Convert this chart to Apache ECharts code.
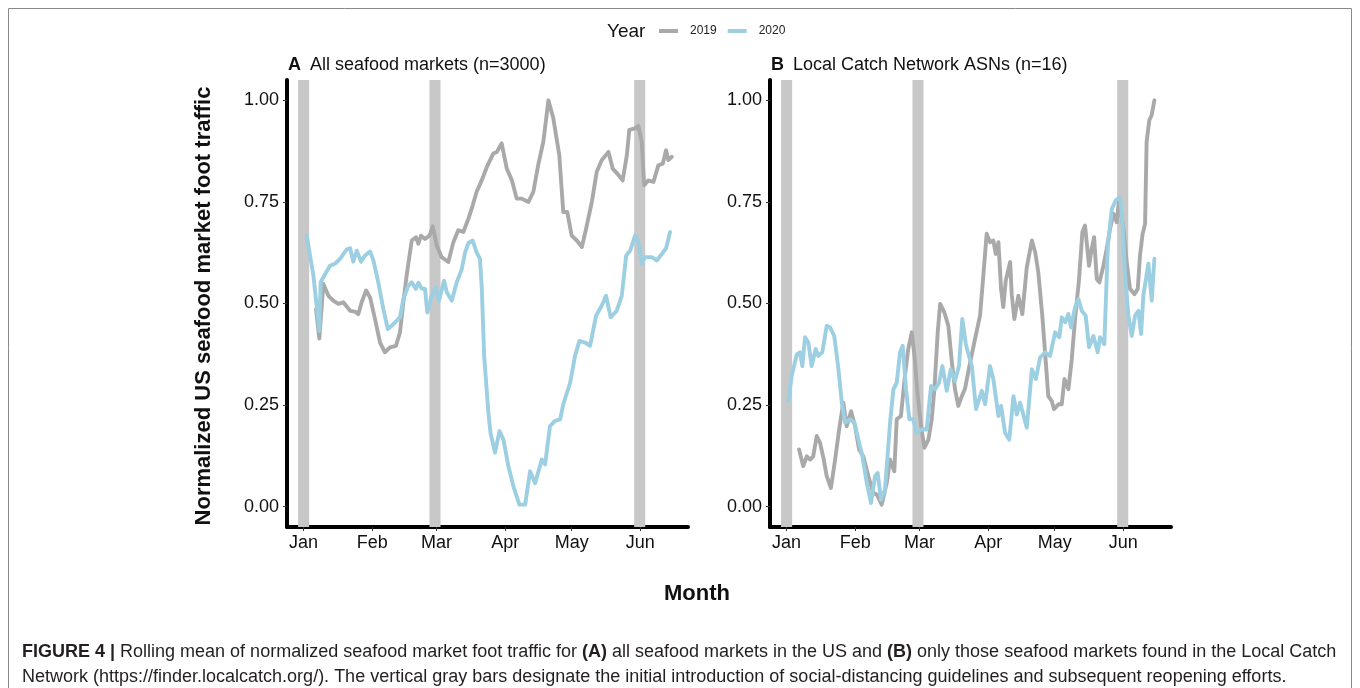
<!DOCTYPE html>
<html>
<head>
<meta charset="utf-8">
<script src="https://cdn.jsdelivr.net/npm/echarts@6/dist/echarts.min.js"></script>
<style>
html,body{margin:0;padding:0;background:#fff;}
#chart{width:1360px;height:688px;}
</style>
</head>
<body>
<div id="chart"></div>
<script>
// x values are day of year (0 = Jan 1)
const monthTicks = [0, 31, 60, 91, 121, 152];
const monthLabels = ['Jan', 'Feb', 'Mar', 'Apr', 'May', 'Jun'];
const yTicks = [0, 0.25, 0.5, 0.75, 1];
const grayBars = [[-2.5, 2.5], [56.8, 61.8], [149.2, 154.2]];
const years = ['2019', '2020'];

// Panel A: all seafood markets
const aDays2019 = [5.6,7.1,8.9,11.2,13.4,15.7,17.9,21,23.2,24.7,26.2,28.2,30,32.2,34.5,36.7,39,41.7,43.5,45,46.5,48.8,50.7,51.8,53,54.8,56.8,58.3,60.1,62.3,65.3,67.6,69.8,72.1,74.4,76.3,78.1,80.4,82.7,85.6,87.2,89.4,91.7,94,96.2,98.5,101.5,103.7,106,108.2,110.5,112.7,115.4,117.2,119,121,123.3,125.6,127.5,130.1,132.3,134.6,137.6,139.5,142,144,145.9,147,149.6,151.1,152.6,153.7,155.6,157.9,160.1,162.1,163.6,164.6,166.2];
const aVals2019 = [0.486,0.414,0.548,0.519,0.507,0.499,0.503,0.482,0.48,0.474,0.503,0.532,0.515,0.462,0.404,0.38,0.392,0.396,0.429,0.503,0.569,0.655,0.663,0.647,0.667,0.659,0.667,0.69,0.643,0.614,0.602,0.651,0.68,0.676,0.709,0.741,0.775,0.803,0.836,0.869,0.873,0.894,0.832,0.803,0.758,0.758,0.75,0.775,0.844,0.898,1.0,0.956,0.865,0.725,0.725,0.667,0.655,0.639,0.684,0.75,0.824,0.853,0.873,0.832,0.817,0.803,0.865,0.927,0.931,0.937,0.898,0.791,0.803,0.799,0.84,0.844,0.877,0.853,0.861];
const aDays2020 = [1.4,4.4,7.1,7.7,11.9,14.2,16.4,19.5,21,22.4,24,25.9,27.7,30,31.5,33.7,36,38,40.5,43.5,45,47.3,48.8,50.7,51.8,53.3,54.8,55.8,57.8,59.6,61.1,63.4,64.6,66.9,69.1,71.4,72.9,74.4,76.3,78.1,79.6,80.4,81.5,83.4,84.4,86.4,88.4,90.2,92.4,94.7,97.4,100,102.2,104.5,107.5,109,111.2,113.5,115.8,117.2,120.3,122.5,124.5,127,129.3,130.8,132,134.6,136.5,138.6,141.3,143.6,145.6,147.4,149.6,151.1,152.6,154.1,157.1,159.4,161.7,163.6,165.4];
const aVals2020 = [0.667,0.569,0.433,0.553,0.593,0.598,0.61,0.633,0.636,0.603,0.63,0.603,0.618,0.628,0.606,0.552,0.486,0.437,0.449,0.466,0.511,0.544,0.552,0.536,0.551,0.537,0.536,0.478,0.519,0.54,0.507,0.556,0.528,0.507,0.552,0.585,0.626,0.649,0.655,0.626,0.61,0.54,0.37,0.231,0.18,0.133,0.186,0.165,0.1,0.05,0.005,0.005,0.087,0.058,0.116,0.104,0.198,0.211,0.215,0.252,0.305,0.371,0.408,0.404,0.396,0.437,0.47,0.495,0.519,0.466,0.482,0.519,0.618,0.63,0.667,0.651,0.598,0.614,0.614,0.606,0.622,0.636,0.676];

// Panel B: Local Catch Network ASNs
const bDays2019 = [5.6,7.5,9.1,10.6,12,13.6,15.1,16.6,18.1,20,21.9,23.7,25.6,27.1,29.1,30.9,32.7,34.6,36.9,39.1,40.7,42.9,45.2,46.7,48.6,49.7,51.6,53.4,54.9,56.5,57.7,59.2,60.7,62.2,64,65.5,66.7,68.2,69.3,71.2,73,74.6,76,77.5,79.1,80.5,82.5,84.7,87.3,88.8,90.3,91.8,93.3,94.4,95.6,96.8,97.8,98.9,99.8,100.9,101.6,102.8,104.6,106.4,108.4,110.7,112.2,113.6,115.4,117,118.1,119.7,120.7,122.7,124.2,125.4,127.2,128.7,130.2,132,133.5,134.7,136.5,137.7,138.8,140,141.2,143,144.5,146,147.5,149,150.1,152,153.5,155,157,158.5,159.5,160.7,161.8,162.5,163.7,164.8,166];
const bVals2019 = [0.141,0.1,0.124,0.116,0.124,0.174,0.157,0.12,0.075,0.046,0.116,0.19,0.256,0.198,0.235,0.198,0.141,0.124,0.075,0.034,0.03,0.005,0.058,0.116,0.087,0.215,0.223,0.322,0.388,0.429,0.371,0.272,0.198,0.145,0.165,0.215,0.289,0.429,0.499,0.478,0.445,0.355,0.289,0.248,0.272,0.29,0.346,0.404,0.47,0.569,0.672,0.651,0.655,0.622,0.651,0.536,0.491,0.556,0.56,0.602,0.523,0.462,0.519,0.474,0.589,0.655,0.626,0.577,0.47,0.355,0.272,0.26,0.24,0.252,0.252,0.314,0.289,0.363,0.462,0.56,0.676,0.692,0.593,0.635,0.663,0.56,0.552,0.593,0.635,0.684,0.721,0.7,0.758,0.684,0.602,0.536,0.523,0.536,0.618,0.672,0.696,0.898,0.951,0.964,1.0];
const bDays2020 = [0.8,2.3,4.6,6,7.1,8.3,9.8,11.3,13.1,14.3,16.1,18.1,19.6,21.5,23.4,24.9,26.4,28.6,30.6,32.4,34.2,36.2,38.1,39.9,41.1,42.6,44.4,46.7,48.2,49.7,51.2,52.4,53.9,55.4,57.2,58.7,61,63.2,65.2,67,68.8,70.3,72.3,74.1,76,77.8,79.3,80.9,82.3,83.6,85.5,88.1,89.6,91.8,93.3,95.6,96.8,98.6,100.5,102.4,103.9,105.4,108.4,110.7,112.5,114.4,116.7,118.9,121.2,123.1,124.2,125.7,127.2,128.4,130.2,131.7,133.2,135,136.5,138.5,140.4,141.5,143.4,145,146.8,148.6,150.5,151.6,152.8,154.3,155.8,157.3,158.8,160,161,163.3,164.8,166];
const bVals2020 = [0.26,0.322,0.375,0.38,0.346,0.417,0.404,0.346,0.388,0.371,0.38,0.445,0.441,0.42,0.338,0.256,0.207,0.215,0.207,0.165,0.124,0.058,0.009,0.075,0.083,0.017,0.042,0.207,0.289,0.305,0.38,0.396,0.289,0.215,0.215,0.182,0.19,0.19,0.297,0.289,0.305,0.346,0.285,0.338,0.309,0.346,0.462,0.4,0.371,0.346,0.24,0.285,0.252,0.346,0.314,0.223,0.248,0.182,0.165,0.272,0.227,0.256,0.194,0.338,0.314,0.367,0.38,0.371,0.429,0.417,0.466,0.454,0.474,0.441,0.491,0.511,0.482,0.47,0.392,0.42,0.38,0.417,0.4,0.643,0.733,0.754,0.762,0.7,0.569,0.47,0.42,0.47,0.482,0.425,0.519,0.598,0.507,0.61];

const zip = (xs, ys) => xs.map((x, i) => [x, ys[i]]);
const colors = { '2019': '#a9a9a9', '2020': '#9ccfe1' };

const chart = echarts.init(document.getElementById('chart'), null, { renderer: 'canvas' });

const FONT = 'Liberation Sans, Arial, Helvetica, sans-serif';
const grids = [
  { left: 287, top: 80, width: 401, height: 447 },
  { left: 770, top: 80, width: 401, height: 447 }
];

function xAxisFor(i) {
  return {
    type: 'value', gridIndex: i, min: -7.5, max: 173.5,
    splitLine: { show: false },
    axisLine: { show: true, onZero: false, lineStyle: { color: '#000', width: 4 } },
    axisTick: { show: true, customValues: monthTicks, length: 4, lineStyle: { color: '#333', width: 1 } },
    axisLabel: {
      customValues: monthTicks, color: '#111', fontSize: 18, fontFamily: FONT, margin: 7,
      formatter: v => monthLabels[monthTicks.indexOf(v)] || ''
    }
  };
}
function yAxisFor(i) {
  return {
    type: 'value', gridIndex: i, min: -0.05, max: 1.05,
    splitLine: { show: false },
    axisLine: { show: true, onZero: false, lineStyle: { color: '#000', width: 4 } },
    axisTick: { show: true, customValues: yTicks, length: 4, lineStyle: { color: '#333', width: 1 } },
    axisLabel: {
      customValues: yTicks, color: '#111', fontSize: 18, fontFamily: FONT, margin: 8,
      formatter: v => v.toFixed(2)
    }
  };
}

function barSeries(i) {
  return {
    type: 'line', xAxisIndex: i, yAxisIndex: i, data: [], silent: true, z: 1,
    markArea: {
      silent: true,
      itemStyle: { color: '#c8c8c8' },
      data: grayBars.map(b => [{ xAxis: b[0] }, { xAxis: b[1] }])
    }
  };
}
function lineSeries(i, name, data) {
  return {
    type: 'line', name: name, xAxisIndex: i, yAxisIndex: i, data: data,
    showSymbol: false, symbol: 'none', smooth: false, z: name === '2019' ? 3 : 4,
    color: colors[name],
    lineStyle: { color: colors[name], width: 3.9, join: 'round', cap: 'round' }
  };
}

const titleStyle = {
  fontSize: 18, fontWeight: 'normal', color: '#111', fontFamily: FONT,
  rich: { b: { fontSize: 18, fontWeight: 'bold', color: '#111', fontFamily: FONT, padding: [0, 4, 0, 0] } }
};

const option = {
  backgroundColor: '#fff',
  animation: false,
  textStyle: { fontFamily: FONT },
  grid: grids,
  xAxis: [xAxisFor(0), xAxisFor(1)],
  yAxis: [yAxisFor(0), yAxisFor(1)],
  legend: {
    data: years, left: 659, top: 25, padding: 0, icon: 'rect', itemWidth: 19, itemHeight: 4, itemGap: 11,
    textStyle: { fontSize: 12, color: '#222', fontFamily: FONT, padding: [0, 0, 0, 7] }
  },
  title: [
    { text: '{b|A} All seafood markets (n=3000)', left: 288, top: 56, padding: 0, textStyle: titleStyle },
    { text: '{b|B} Local Catch Network ASNs (n=16)', left: 771, top: 56, padding: 0, textStyle: titleStyle }
  ],
  graphic: [
    { type: 'rect', silent: true, z: -10, shape: { x: 8.5, y: 8.5, width: 1343, height: 700 },
      style: { fill: 'none', stroke: '#8a8a8a', lineWidth: 1 } },
    { type: 'text', x: 607, y: 32, silent: true,
      style: { text: 'Year', fontSize: 19, fill: '#111', fontFamily: FONT, verticalAlign: 'middle' } },
    { type: 'text', x: 204, y: 306, rotation: Math.PI / 2, silent: true,
      style: { text: 'Normalized US seafood market foot traffic', fontSize: 22, fontWeight: 'bold',
        fill: '#111', fontFamily: FONT, align: 'center', verticalAlign: 'middle' } },
    { type: 'text', x: 697, y: 594, silent: true,
      style: { text: 'Month', fontSize: 22, fontWeight: 'bold', fill: '#111', fontFamily: FONT,
        align: 'center', verticalAlign: 'middle' } },
    { type: 'text', x: 22, y: 652, silent: true,
      style: {
        text: '{b|FIGURE 4 |} Rolling mean of normalized seafood market foot traffic for {b|(A)} all seafood markets in the US and {b|(B)} only those seafood markets found in the Local Catch',
        fontSize: 18, fill: '#231f20', fontFamily: FONT, verticalAlign: 'middle',
        rich: { b: { fontSize: 18, fontWeight: 'bold', fill: '#231f20', fontFamily: FONT } }
      } },
    { type: 'text', x: 22, y: 677, silent: true,
      style: {
        text: 'Network (https://finder.localcatch.org/). The vertical gray bars designate the initial introduction of social-distancing guidelines and subsequent reopening efforts.',
        fontSize: 18, fill: '#231f20', fontFamily: FONT, verticalAlign: 'middle'
      } }
  ],
  series: [
    barSeries(0), barSeries(1),
    lineSeries(0, '2019', zip(aDays2019, aVals2019)),
    lineSeries(0, '2020', zip(aDays2020, aVals2020)),
    lineSeries(1, '2019', zip(bDays2019, bVals2019)),
    lineSeries(1, '2020', zip(bDays2020, bVals2020))
  ]
};
chart.setOption(option);
</script>
</body>
</html>
